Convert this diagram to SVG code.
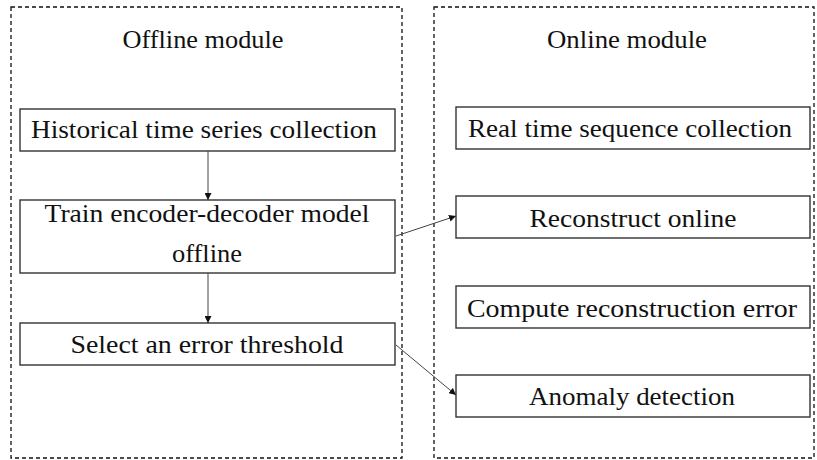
<svg xmlns="http://www.w3.org/2000/svg" width="817" height="460" viewBox="0 0 817 460">
  <style>
    .module { fill: none; stroke: #111; stroke-width: 1.3; stroke-dasharray: 4 3; }
    .box { fill: #fff; stroke: #333; stroke-width: 1.4; }
    .label { font-family: "Liberation Serif", "DejaVu Serif", serif; font-size: 26px; fill: #111; text-anchor: middle; }
    .edge { fill: none; stroke: #444; stroke-width: 1; }
  </style>
  <defs>
    <marker id="arrow" viewBox="0 0 10 10" refX="10" refY="5" markerWidth="7" markerHeight="7" markerUnits="userSpaceOnUse" orient="auto">
      <path d="M0,0 L10,5 L0,10 Z" fill="#111"/>
    </marker>
  </defs>

  <!-- module frames -->
  <g id="offline-module">
    <rect class="module" x="11" y="7" width="391" height="451"/>
    <text class="label" x="203" y="48" textLength="161" lengthAdjust="spacingAndGlyphs">Offline module</text>
  </g>
  <g id="online-module">
    <rect class="module" x="434" y="7" width="380" height="451"/>
    <text class="label" x="627" y="48" textLength="160" lengthAdjust="spacingAndGlyphs">Online module</text>
  </g>

  <!-- offline steps -->
  <g id="historical">
    <rect class="box" x="20" y="109" width="375" height="42"/>
    <text class="label" x="204" y="138" textLength="346" lengthAdjust="spacingAndGlyphs">Historical time series collection</text>
  </g>
  <g id="train">
    <rect class="box" x="20" y="200" width="375" height="73"/>
    <text class="label" x="207" y="222" textLength="325" lengthAdjust="spacingAndGlyphs">Train encoder-decoder model</text>
    <text class="label" x="207" y="262" textLength="70" lengthAdjust="spacingAndGlyphs">offline</text>
  </g>
  <g id="threshold">
    <rect class="box" x="20" y="323" width="375" height="42"/>
    <text class="label" x="207" y="353" textLength="273" lengthAdjust="spacingAndGlyphs">Select an error threshold</text>
  </g>

  <!-- online steps -->
  <g id="realtime">
    <rect class="box" x="456" y="107" width="354" height="42"/>
    <text class="label" x="630" y="137" textLength="324" lengthAdjust="spacingAndGlyphs">Real time sequence collection</text>
  </g>
  <g id="reconstruct">
    <rect class="box" x="456" y="196" width="354" height="42"/>
    <text class="label" x="633" y="227" textLength="207" lengthAdjust="spacingAndGlyphs">Reconstruct online</text>
  </g>
  <g id="compute">
    <rect class="box" x="456" y="286" width="354" height="42"/>
    <text class="label" x="632" y="317" textLength="330" lengthAdjust="spacingAndGlyphs">Compute reconstruction error</text>
  </g>
  <g id="anomaly">
    <rect class="box" x="456" y="375" width="354" height="42"/>
    <text class="label" x="632" y="405" textLength="206" lengthAdjust="spacingAndGlyphs">Anomaly detection</text>
  </g>

  <!-- connectors -->
  <g id="connectors">
    <line class="edge" x1="208" y1="151" x2="208" y2="200" marker-end="url(#arrow)"/>
    <line class="edge" x1="208" y1="273" x2="208" y2="323" marker-end="url(#arrow)"/>
    <line class="edge" x1="396" y1="236" x2="456" y2="216" marker-end="url(#arrow)"/>
    <line class="edge" x1="396" y1="345" x2="456" y2="395" marker-end="url(#arrow)"/>
  </g>
</svg>
